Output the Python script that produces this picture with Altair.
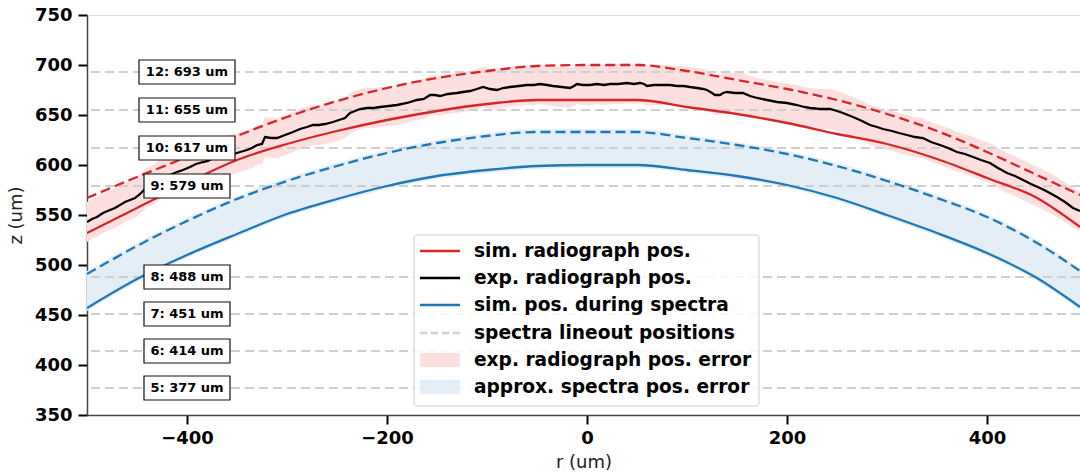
import altair as alt
import pandas as pd

# ---------------- data ----------------
r_grid = [-500, -450, -400, -350, -300, -250, -200, -150, -100, -50, 0,
          50, 100, 150, 200, 250, 300, 350, 400, 450, 493]
red_sim = [532, 557, 582, 605, 621, 634, 645, 654, 661, 665, 665,
           665, 658, 651, 642, 631, 621, 606, 587, 567, 538]
red_dash = [567, 588, 608, 629, 648, 664, 677, 687, 694, 699, 700,
            700, 694, 685, 676, 665, 651, 634, 613, 590, 570]
blue_sim = [457, 486, 510, 531, 551, 566, 579, 589, 595, 599, 600,
            600, 595, 589, 580, 567, 550, 532, 512, 487, 458]
blue_dash = [491, 519, 544, 566, 584, 599, 612, 622, 629, 633, 633,
             633, 627, 620, 611, 599, 584, 567, 548, 522, 494]

black_r = [-500, -495, -490, -484, -477, -472, -467, -462, -457, -452,
           -448, -445, -440, -435, -430, -424, -417, -410, -404, -397,
           -391, -384, -379, -374, -368, -363, -358, -353, -347, -340,
           -335, -330, -325, -322, -316, -310, -302, -294, -287, -280,
           -274, -268, -262, -254, -248, -242, -237, -232, -227, -220,
           -213, -207, -198, -190, -180, -170, -163, -157, -152, -147,
           -139, -130, -124, -117, -110, -104, -97, -90, -84, -77,
           -68, -60, -53, -47, -40, -34, -25, -17, -13, -10,
           -4, 3, 10, 17, 23, 31, 40, 47, 53, 57,
           60, 67, 75, 83, 90, 97, 103, 110, 116, 120,
           125, 128, 133, 136, 140, 148, 156, 163, 170, 180,
           190, 200, 210, 217, 223, 233, 243, 250, 256, 261,
           266, 275, 283, 290, 296, 305, 312, 320, 328, 336,
           344, 353, 361, 370, 378, 386, 394, 403, 411, 420,
           428, 436, 444, 453, 461, 470, 478, 486, 493]
black_z = [543, 546, 548, 552, 555, 557, 560, 563, 565, 567,
           570, 573, 578, 580, 583, 588, 590, 593, 595, 598,
           601, 603, 604, 607, 608, 609, 610, 611, 613, 615,
           617, 620, 621, 628, 627, 627, 630, 633, 636, 638,
           640, 640, 641, 643, 645, 647, 652, 654, 656, 657,
           657, 658, 659, 660, 662, 665, 666, 670, 670, 669,
           671, 672, 673, 674, 676, 678, 676, 675, 677, 678,
           679, 680, 680, 681, 680, 679, 678, 677, 679, 681,
           680, 680, 681, 680, 681, 681, 682, 681, 682, 681,
           679, 680, 680, 680, 679, 679, 678, 677, 676, 675,
           672, 670, 670, 672, 673, 672, 672, 669, 667, 665,
           663, 662, 660, 658, 657, 656, 656, 654, 652, 650,
           648, 644, 640, 638, 636, 634, 632, 630, 628, 627,
           623, 620, 617, 613, 611, 608, 605, 602, 597, 592,
           589, 585, 581, 577, 573, 568, 563, 557, 554]
red_err = 20          # half width of experimental radiograph error band
blue_pad = 3          # spread of the spectra error band beyond its lines

lineout_idx = [5, 6, 7, 8, 9, 10, 11, 12]
lineout_z = [377, 414, 451, 488, 579, 617, 655, 693]
label_r = -400

legend_labels = ["sim. radiograph pos.", "exp. radiograph pos.",
                 "sim. pos. during spectra", "spectra lineout positions",
                 "exp. radiograph pos. error", "approx. spectra pos. error"]

RED = "#d62728"
BLUE = "#1f77b4"
GRAY = "#cfcfcf"
RED_FILL = "#fddfdf"
BLUE_FILL = "#e4eef7"
FONT = "DejaVu Sans"
LW = 2.3

# ---------------- tables ----------------
smooth = pd.DataFrame({"r": r_grid, "red_sim": red_sim, "red_dash": red_dash,
                       "blue_sim": blue_sim, "blue_dash": blue_dash})
smooth["blue_lo"] = smooth["blue_sim"] - blue_pad
smooth["blue_hi"] = smooth["blue_dash"] + blue_pad
black = pd.DataFrame({"r": black_r, "z": black_z})
black["lo"] = black["z"] - red_err
black["hi"] = black["z"] + red_err

lab = pd.DataFrame({"idx": lineout_idx, "z": lineout_z})
lab["text"] = [f"{i}: {v} um" for i, v in zip(lineout_idx, lineout_z)]
lab["half"] = [48 if len(t) >= 10 else 43 for t in lab["text"]]
lab["x1"] = label_r - lab["half"]
lab["x2"] = label_r + lab["half"]
lab["y1"] = lab["z"] - 12
lab["y2"] = lab["z"] + 12
lab["r"] = label_r

xscale = alt.Scale(domain=[-500, 493], nice=False, zero=False)
yscale = alt.Scale(domain=[350, 750], nice=False, zero=False)

xaxis = alt.Axis(title="r (um)", values=[-400, -200, 0, 200, 400], grid=False,
                 labelFont=FONT, labelFontSize=18, labelFontWeight="bold",
                 labelColor="black", labelPadding=5, tickSize=9, tickWidth=2,
                 tickColor="black", domainColor="#444444", domainWidth=1.5,
                 titleFont=FONT, titleFontSize=18, titleFontWeight="normal",
                 titleColor="#222222", titlePadding=6)
yaxis = alt.Axis(title="z (um)", values=list(range(350, 751, 50)), grid=False,
                 labelFont=FONT, labelFontSize=18, labelFontWeight="bold",
                 labelColor="black", labelPadding=6, tickSize=9, tickWidth=2,
                 tickColor="black", domainColor="#444444", domainWidth=1.5,
                 titleFont=FONT, titleFontSize=18, titleFontWeight="normal",
                 titleColor="#222222", titlePadding=9)


def X(f="r"):
    return alt.X(f"{f}:Q", scale=xscale, axis=xaxis, title="r (um)")


def Y(f):
    return alt.Y(f"{f}:Q", scale=yscale, axis=yaxis, title="z (um)")


red_band = alt.Chart(black).mark_area(color=RED_FILL, opacity=1, clip=True).encode(
    x=X(), y=Y("lo"), y2="hi")
blue_band = alt.Chart(smooth).mark_area(color=BLUE_FILL, opacity=1, clip=True,
                                        interpolate="monotone").encode(
    x=X(), y=Y("blue_lo"), y2="blue_hi")
rules = alt.Chart(lab).mark_rule(color=GRAY, strokeWidth=2, strokeDash=[9, 5]).encode(
    y=Y("z"))


def line(field, color, dash=None):
    kw = dict(color=color, strokeWidth=LW, clip=True, interpolate="monotone")
    if dash:
        kw["strokeDash"] = dash
    return alt.Chart(smooth).mark_line(**kw).encode(x=X(), y=Y(field))


red_line = line("red_sim", RED)
red_dline = line("red_dash", RED, [10, 5])
blue_line = line("blue_sim", BLUE)
blue_dline = line("blue_dash", BLUE, [10, 5])
black_line = alt.Chart(black).mark_line(color="black", strokeWidth=LW, clip=True).encode(
    x=X(), y=Y("z"))

boxes = alt.Chart(lab).mark_rect(fill="white", stroke="#111111", strokeWidth=1.2).encode(
    x=alt.X("x1:Q", scale=xscale, axis=xaxis, title="r (um)"), x2="x2",
    y=alt.Y("y1:Q", scale=yscale, axis=yaxis, title="z (um)"), y2="y2")
texts = alt.Chart(lab).mark_text(font=FONT, fontSize=13, fontWeight="bold",
                                 color="black", baseline="middle", align="center").encode(
    x=X(), y=Y("z"), text="text:N")

# ---------------- legend (drawn by hand, pixel layout) ----------------
one = pd.DataFrame({"a": [0]})
LX0, LX1, LY0, LY1 = 327, 672, 220, 391
row_y = [236, 263, 290, 318, 345, 372]
leg_layers = [alt.Chart(one).mark_rect(fill="white", fillOpacity=0.85, stroke="#cccccc",
                                       strokeWidth=1, cornerRadius=3).encode(
    x=alt.value(LX0), x2=alt.value(LX1), y=alt.value(LY0), y2=alt.value(LY1))]
sym_styles = [("line", RED, None), ("line", "black", None), ("line", BLUE, None),
              ("line", GRAY, [7, 4]), ("fill", RED_FILL, None), ("fill", BLUE_FILL, None)]
for (kind, col, dash), ly, txt in zip(sym_styles, row_y, legend_labels):
    if kind == "line":
        kw = dict(color=col, strokeWidth=LW)
        if dash:
            kw["strokeDash"] = dash
        leg_layers.append(alt.Chart(one).mark_rule(**kw).encode(
            x=alt.value(333), x2=alt.value(373), y=alt.value(ly)))
    else:
        leg_layers.append(alt.Chart(one).mark_rect(color=col).encode(
            x=alt.value(333), x2=alt.value(373), y=alt.value(ly - 7), y2=alt.value(ly + 7)))
    leg_layers.append(alt.Chart(one).mark_text(
        text=txt, font=FONT, fontSize=18.6, fontWeight="bold", color="black",
        align="left", baseline="middle").encode(x=alt.value(387), y=alt.value(ly)))

chart = alt.layer(
    red_band, blue_band, rules, red_line, red_dline, black_line,
    blue_line, blue_dline, boxes, texts, *leg_layers
).properties(
    width=993, height=400,
    autosize=alt.AutoSizeParams(type="none"),
    padding={"left": 87, "top": 15, "right": 0, "bottom": 59},
).configure_view(stroke=None).configure(background="white")

chart.save("out.html", embed_options={"renderer": "svg", "actions": False})
